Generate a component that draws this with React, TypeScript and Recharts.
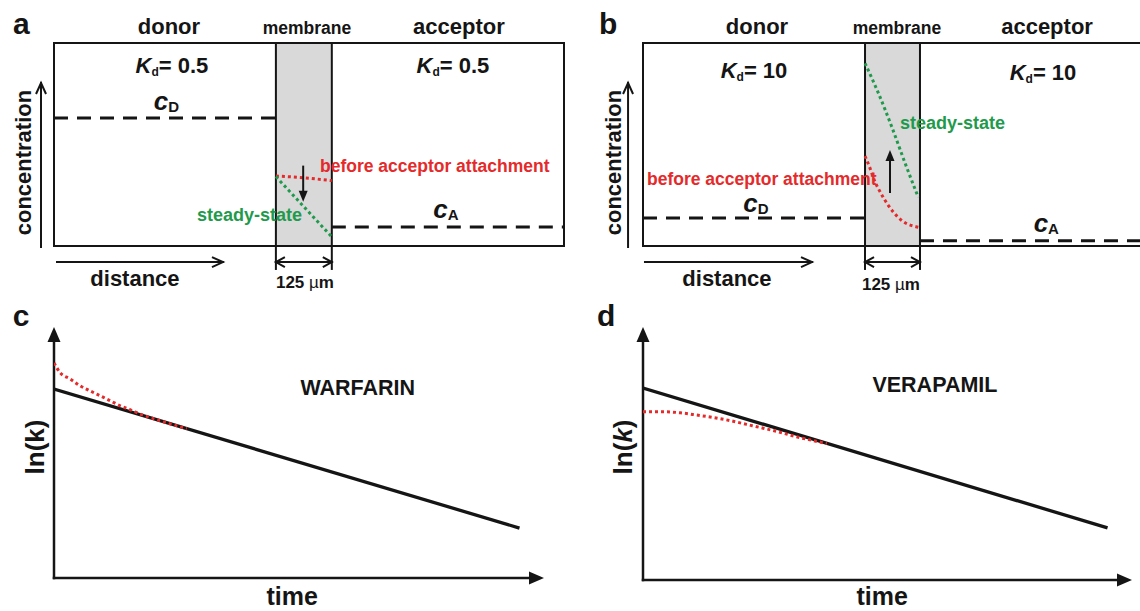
import React from 'react';
import { LineChart, Line, XAxis, YAxis, ReferenceArea, ReferenceLine, ReferenceDot } from 'recharts';

const INK = '#151515';
const RED = '#e42a2a';
const GREEN = '#1f9a4c';
const MEMBRANE_FILL = '#d9d9d9';
const FONT = '"Liberation Sans", Arial, Helvetica, sans-serif';

// panel a (Kd = 0.5): distance in µm, concentration in arbitrary units
const aDistance = [0, 1140];
const aMembrane = [496, 621];
const aDonor = [{ x: 0, y: 63 }, { x: 496, y: 63 }];
const aAcceptor = [{ x: 621, y: 9.4 }, { x: 1140, y: 9.4 }];
const aBefore = [{ x: 496, y: 34.5 }, { x: 558, y: 33.6 }, { x: 621, y: 32.2 }];
const aSteady = [{ x: 496, y: 34.2 }, { x: 621, y: 4.5 }];

// panel b (Kd = 10)
const bDistance = [0, 1135];
const bMembrane = [505, 630];
const bDonor = [{ x: 0, y: 13.8 }, { x: 505, y: 13.8 }];
const bAcceptor = [{ x: 630, y: 2.6 }, { x: 1135, y: 2.6 }];
const bBefore = [
  { x: 505, y: 44.3 }, { x: 515, y: 39.1 }, { x: 526, y: 32.5 }, { x: 541, y: 26 }, { x: 560, y: 19.4 },
  { x: 579, y: 14.4 }, { x: 598, y: 11.2 }, { x: 621, y: 9.5 }, { x: 627, y: 9.2 },
];
const bSteady = [
  { x: 505, y: 90 }, { x: 536, y: 75 }, { x: 566, y: 58.6 }, { x: 596, y: 40.9 }, { x: 626, y: 24 },
];

// panel c (warfarin): ln(k) vs time
const cFit = [{ x: 0, y: 75.3 }, { x: 95, y: 19.9 }];
const cEarly = [
  { x: 0, y: 85.7 }, { x: 1.2, y: 81.9 }, { x: 3.3, y: 79.3 }, { x: 5.3, y: 76.6 }, { x: 7.3, y: 74.6 },
  { x: 9.4, y: 72.6 }, { x: 11.4, y: 70.7 }, { x: 13.5, y: 68.6 }, { x: 15.5, y: 67.1 }, { x: 17.6, y: 65.3 },
  { x: 21.6, y: 62.7 }, { x: 27.1, y: 59.5 },
];

// panel d (verapamil)
const dFit = [{ x: 0, y: 75.9 }, { x: 95, y: 20.6 }];
const dEarly = [
  { x: 0, y: 66.5 }, { x: 4.2, y: 66.5 }, { x: 7.6, y: 66.1 }, { x: 11, y: 65.2 }, { x: 14.4, y: 64.2 },
  { x: 17.8, y: 63 }, { x: 21.2, y: 61.5 }, { x: 24.6, y: 60 }, { x: 28, y: 58.4 }, { x: 31.4, y: 56.6 },
  { x: 34.8, y: 55.1 }, { x: 37.6, y: 53.9 },
];

type NoteOpts = { size?: number; anchor?: 'start' | 'middle' | 'end'; fill?: string; rotate?: boolean };

function note(key: string, x: number, y: number, body: React.ReactNode, o: NoteOpts = {}) {
  return (
    <ReferenceDot
      key={key}
      x={x}
      y={y}
      r={0}
      ifOverflow="visible"
      shape={(p: any) => (
        <text
          x={p.cx}
          y={p.cy}
          fontFamily={FONT}
          fontSize={o.size ?? 22}
          fontWeight="bold"
          fill={o.fill ?? INK}
          textAnchor={o.anchor ?? 'middle'}
          transform={o.rotate ? `rotate(-90 ${p.cx} ${p.cy})` : undefined}
        >
          {body}
        </text>
      )}
    />
  );
}

function arrowShape(kind: 'open' | 'filled', len: number, half: number, both = false, sw = 2) {
  return (p: any) => {
    const { x1, y1, x2, y2 } = p;
    const a = Math.atan2(y2 - y1, x2 - x1);
    const head = (tx: number, ty: number, ang: number, k: string) => {
      const bx = tx - len * Math.cos(ang);
      const by = ty - len * Math.sin(ang);
      const nx = -Math.sin(ang) * half;
      const ny = Math.cos(ang) * half;
      const pts = `${bx + nx},${by + ny} ${tx},${ty} ${bx - nx},${by - ny}`;
      return kind === 'filled'
        ? <polygon key={k} points={pts} fill={INK} />
        : <polyline key={k} points={pts} fill="none" stroke={INK} strokeWidth={sw} />;
    };
    const trim = kind === 'filled' ? len * 0.7 : 0;
    const ex = x2 - trim * Math.cos(a);
    const ey = y2 - trim * Math.sin(a);
    const sx = both ? x1 + trim * Math.cos(a) : x1;
    const sy = both ? y1 + trim * Math.sin(a) : y1;
    return (
      <g>
        <line x1={sx} y1={sy} x2={ex} y2={ey} stroke={INK} strokeWidth={sw} strokeLinecap="square" />
        {head(x2, y2, a, 'h2')}
        {both && head(x1, y1, a + Math.PI, 'h1')}
      </g>
    );
  };
}

function arrow(key: string, x1: number, y1: number, x2: number, y2: number, shape: (p: any) => React.ReactElement) {
  return (
    <ReferenceLine key={key} segment={[{ x: x1, y: y1 }, { x: x2, y: y2 }]} ifOverflow="visible" shape={shape as any} />
  );
}

function seg(key: string, x1: number, y1: number, x2: number, y2: number) {
  return (
    <ReferenceLine key={key} segment={[{ x: x1, y: y1 }, { x: x2, y: y2 }]} ifOverflow="visible" stroke={INK} strokeWidth={2} />
  );
}

const kd = (v: string) => (
  <>
    <tspan fontStyle="italic">K</tspan>
    <tspan fontSize={12} dy={3}>d</tspan>
    <tspan dy={-3}>= {v}</tspan>
  </>
);

const conc = (sub: string) => (
  <>
    <tspan fontStyle="italic" fontSize={26}>c</tspan>
    <tspan fontSize={15} dy={2}>{sub}</tspan>
  </>
);

const micro = (
  <>
    125 <tspan fontWeight="normal">µ</tspan>m
  </>
);

const openArrow = arrowShape('open', 11, 5);
const gapArrow = arrowShape('open', 9, 5, true);
const shiftArrow = arrowShape('filled', 11, 4.5);
const axisArrow = arrowShape('filled', 15, 6.5, false, 2.5);

const dashed = { stroke: INK, strokeWidth: 3, strokeDasharray: '14 9', dot: false, isAnimationActive: false, type: 'linear' as const };
const dotted = { strokeWidth: 3, strokeDasharray: '3 3', dot: false, isAnimationActive: false, type: 'monotone' as const };

function PanelA() {
  return (
    <LineChart width={570} height={300} margin={{ top: 43, right: 6, bottom: 54, left: 54 }}>
      <XAxis type="number" dataKey="x" domain={aDistance} hide allowDataOverflow />
      <YAxis type="number" dataKey="y" domain={[0, 100]} hide allowDataOverflow />
      <ReferenceArea x1={aDistance[0]} x2={aDistance[1]} y1={0} y2={100} fill="none" stroke={INK} strokeWidth={2} />
      <ReferenceArea x1={aMembrane[0]} x2={aMembrane[1]} y1={0} y2={100} fill={MEMBRANE_FILL} fillOpacity={1} stroke={INK} strokeWidth={2} />
      <Line data={aDonor} dataKey="y" {...dashed} />
      <Line data={aAcceptor} dataKey="y" {...dashed} />
      <Line data={aBefore} dataKey="y" stroke={RED} {...dotted} />
      <Line data={aSteady} dataKey="y" stroke={GREEN} {...dotted} type="linear" />
      {seg('ml', aMembrane[0], 0, aMembrane[0], -11.8)}
      {seg('mr', aMembrane[1], 0, aMembrane[1], -11.8)}
      {arrow('conc', -29, -0.5, -29, 80.3, openArrow)}
      {arrow('dist', 6.7, -7.9, 377.7, -7.9, openArrow)}
      {arrow('gap', aMembrane[0], -7.9, aMembrane[1], -7.9, gapArrow)}
      {arrow('shift', 557, 39.1, 557, 21.8, shiftArrow)}
      {note('lbl', -91.6, 104.4, 'a', { size: 30, anchor: 'start' })}
      {note('donor', 257, 104.4, 'donor')}
      {note('membrane', 565.5, 104.4, 'membrane', { size: 17.5 })}
      {note('acceptor', 905, 104.4, 'acceptor')}
      {note('kdl', 263.7, 85.2, kd('0.5'))}
      {note('kdr', 891.8, 85.2, kd('0.5'))}
      {note('cd', 251.4, 67, conc('D'))}
      {note('ca', 876, 13.8, conc('A'))}
      {note('before', 594.5, 36.5, 'before acceptor attachment', { size: 17.5, anchor: 'start', fill: RED })}
      {note('steady', 319.6, 12.3, 'steady-state', { size: 18, anchor: 'start', fill: GREEN })}
      {note('yl', -51.4, 41.1, 'concentration', { rotate: true })}
      {note('xl', 181, -19.7, 'distance')}
      {note('um', 561, -20.7, micro, { size: 17 })}
    </LineChart>
  );
}

function PanelB() {
  return (
    <LineChart width={575} height={300} margin={{ top: 43, right: 3, bottom: 54, left: 73 }}>
      <XAxis type="number" dataKey="x" domain={bDistance} hide allowDataOverflow />
      <YAxis type="number" dataKey="y" domain={[0, 100]} hide allowDataOverflow />
      <ReferenceArea x1={bDistance[0]} x2={bDistance[1]} y1={0} y2={100} fill="none" stroke={INK} strokeWidth={2} />
      <ReferenceArea x1={bMembrane[0]} x2={bMembrane[1]} y1={0} y2={100} fill={MEMBRANE_FILL} fillOpacity={1} stroke={INK} strokeWidth={2} />
      <Line data={bDonor} dataKey="y" {...dashed} />
      <Line data={bAcceptor} dataKey="y" {...dashed} />
      <Line data={bBefore} dataKey="y" stroke={RED} {...dotted} />
      <Line data={bSteady} dataKey="y" stroke={GREEN} {...dotted} />
      {seg('ml', bMembrane[0], 0, bMembrane[0], -11.8)}
      {seg('mr', bMembrane[1], 0, bMembrane[1], -11.8)}
      {arrow('conc', -34, -0.5, -34, 80.3, openArrow)}
      {arrow('dist', 4.5, -7.9, 384.4, -7.9, openArrow)}
      {arrow('gap', bMembrane[0], -7.9, bMembrane[1], -7.9, gapArrow)}
      {arrow('shift', 561.8, 26.6, 561.8, 47.3, shiftArrow)}
      {note('lbl', -100, 104.4, 'b', { size: 30, anchor: 'start' })}
      {note('donor', 259.3, 104.4, 'donor')}
      {note('membrane', 577.7, 104.4, 'membrane', { size: 17.5 })}
      {note('acceptor', 919, 104.4, 'acceptor')}
      {note('kdl', 252.5, 82.8, kd('10'))}
      {note('kdr', 909.8, 82, kd('10'))}
      {note('cd', 257, 16.7, conc('D'))}
      {note('ca', 917.3, 6.9, conc('A'))}
      {note('before', 9, 30, 'before acceptor attachment', { size: 17.5, anchor: 'start', fill: RED })}
      {note('steady', 584.5, 57.6, 'steady-state', { size: 18, anchor: 'start', fill: GREEN })}
      {note('yl', -50, 41.1, 'concentration', { rotate: true })}
      {note('xl', 191, -19.7, 'distance')}
      {note('um', 564, -21.7, micro, { size: 17 })}
    </LineChart>
  );
}

function KineticsPanel(props: {
  letter: string; drug: string; fit: { x: number; y: number }[]; early: { x: number; y: number }[];
  margin: { top: number; right: number; bottom: number; left: number }; pos: { letter: number[]; drug: number[]; ylab: number[]; xlab: number[] };
}) {
  const { letter, drug, fit, early, margin, pos } = props;
  return (
    <LineChart width={570} height={311} margin={margin}>
      <XAxis type="number" dataKey="x" domain={[0, 100]} hide allowDataOverflow />
      <YAxis type="number" dataKey="y" domain={[0, 100]} hide allowDataOverflow />
      {arrow('ya', 0, 0, 0, 100, axisArrow)}
      {arrow('xa', 0, 0, 100, 0, axisArrow)}
      <Line data={fit} dataKey="y" stroke={INK} strokeWidth={3.3} dot={false} isAnimationActive={false} type="linear" />
      <Line data={early} dataKey="y" stroke={RED} {...dotted} />
      {note('lbl', pos.letter[0], pos.letter[1], letter, { size: 30, anchor: 'start' })}
      {note('drug', pos.drug[0], pos.drug[1], drug, { size: 21.5 })}
      {note('yl', pos.ylab[0], pos.ylab[1], <>ln(<tspan fontStyle={letter === 'd' ? 'italic' : 'normal'}>k</tspan>)</>, { size: 26, rotate: true })}
      {note('xl', pos.xlab[0], pos.xlab[1], 'time', { size: 25 })}
    </LineChart>
  );
}

export default function App() {
  return (
    <div style={{ position: 'absolute', left: 0, top: 0, width: 1140, height: 611, overflow: 'hidden', background: '#fff' }}>
      <div style={{ position: 'absolute', left: 0, top: 0 }}><PanelA /></div>
      <div style={{ position: 'absolute', left: 570, top: 0 }}><PanelB /></div>
      <div style={{ position: 'absolute', left: 0, top: 300 }}>
        <KineticsPanel
          letter="c"
          drug="WARFARIN"
          fit={cFit}
          early={cEarly}
          margin={{ top: 27, right: 26, bottom: 33, left: 54 }}
          pos={{ letter: [-8.4, 100.4], drug: [62, 72.9], ylab: [-2, 52.2], xlab: [48.6, -10.6] }}
        />
      </div>
      <div style={{ position: 'absolute', left: 570, top: 300 }}>
        <KineticsPanel
          letter="d"
          drug="VERAPAMIL"
          fit={dFit}
          early={dEarly}
          margin={{ top: 27, right: 8, bottom: 31, left: 73 }}
          pos={{ letter: [-9.4, 100.4], drug: [59.7, 74.3], ylab: [-2.2, 52.6], xlab: [48.9, -9.7] }}
        />
      </div>
    </div>
  );
}
